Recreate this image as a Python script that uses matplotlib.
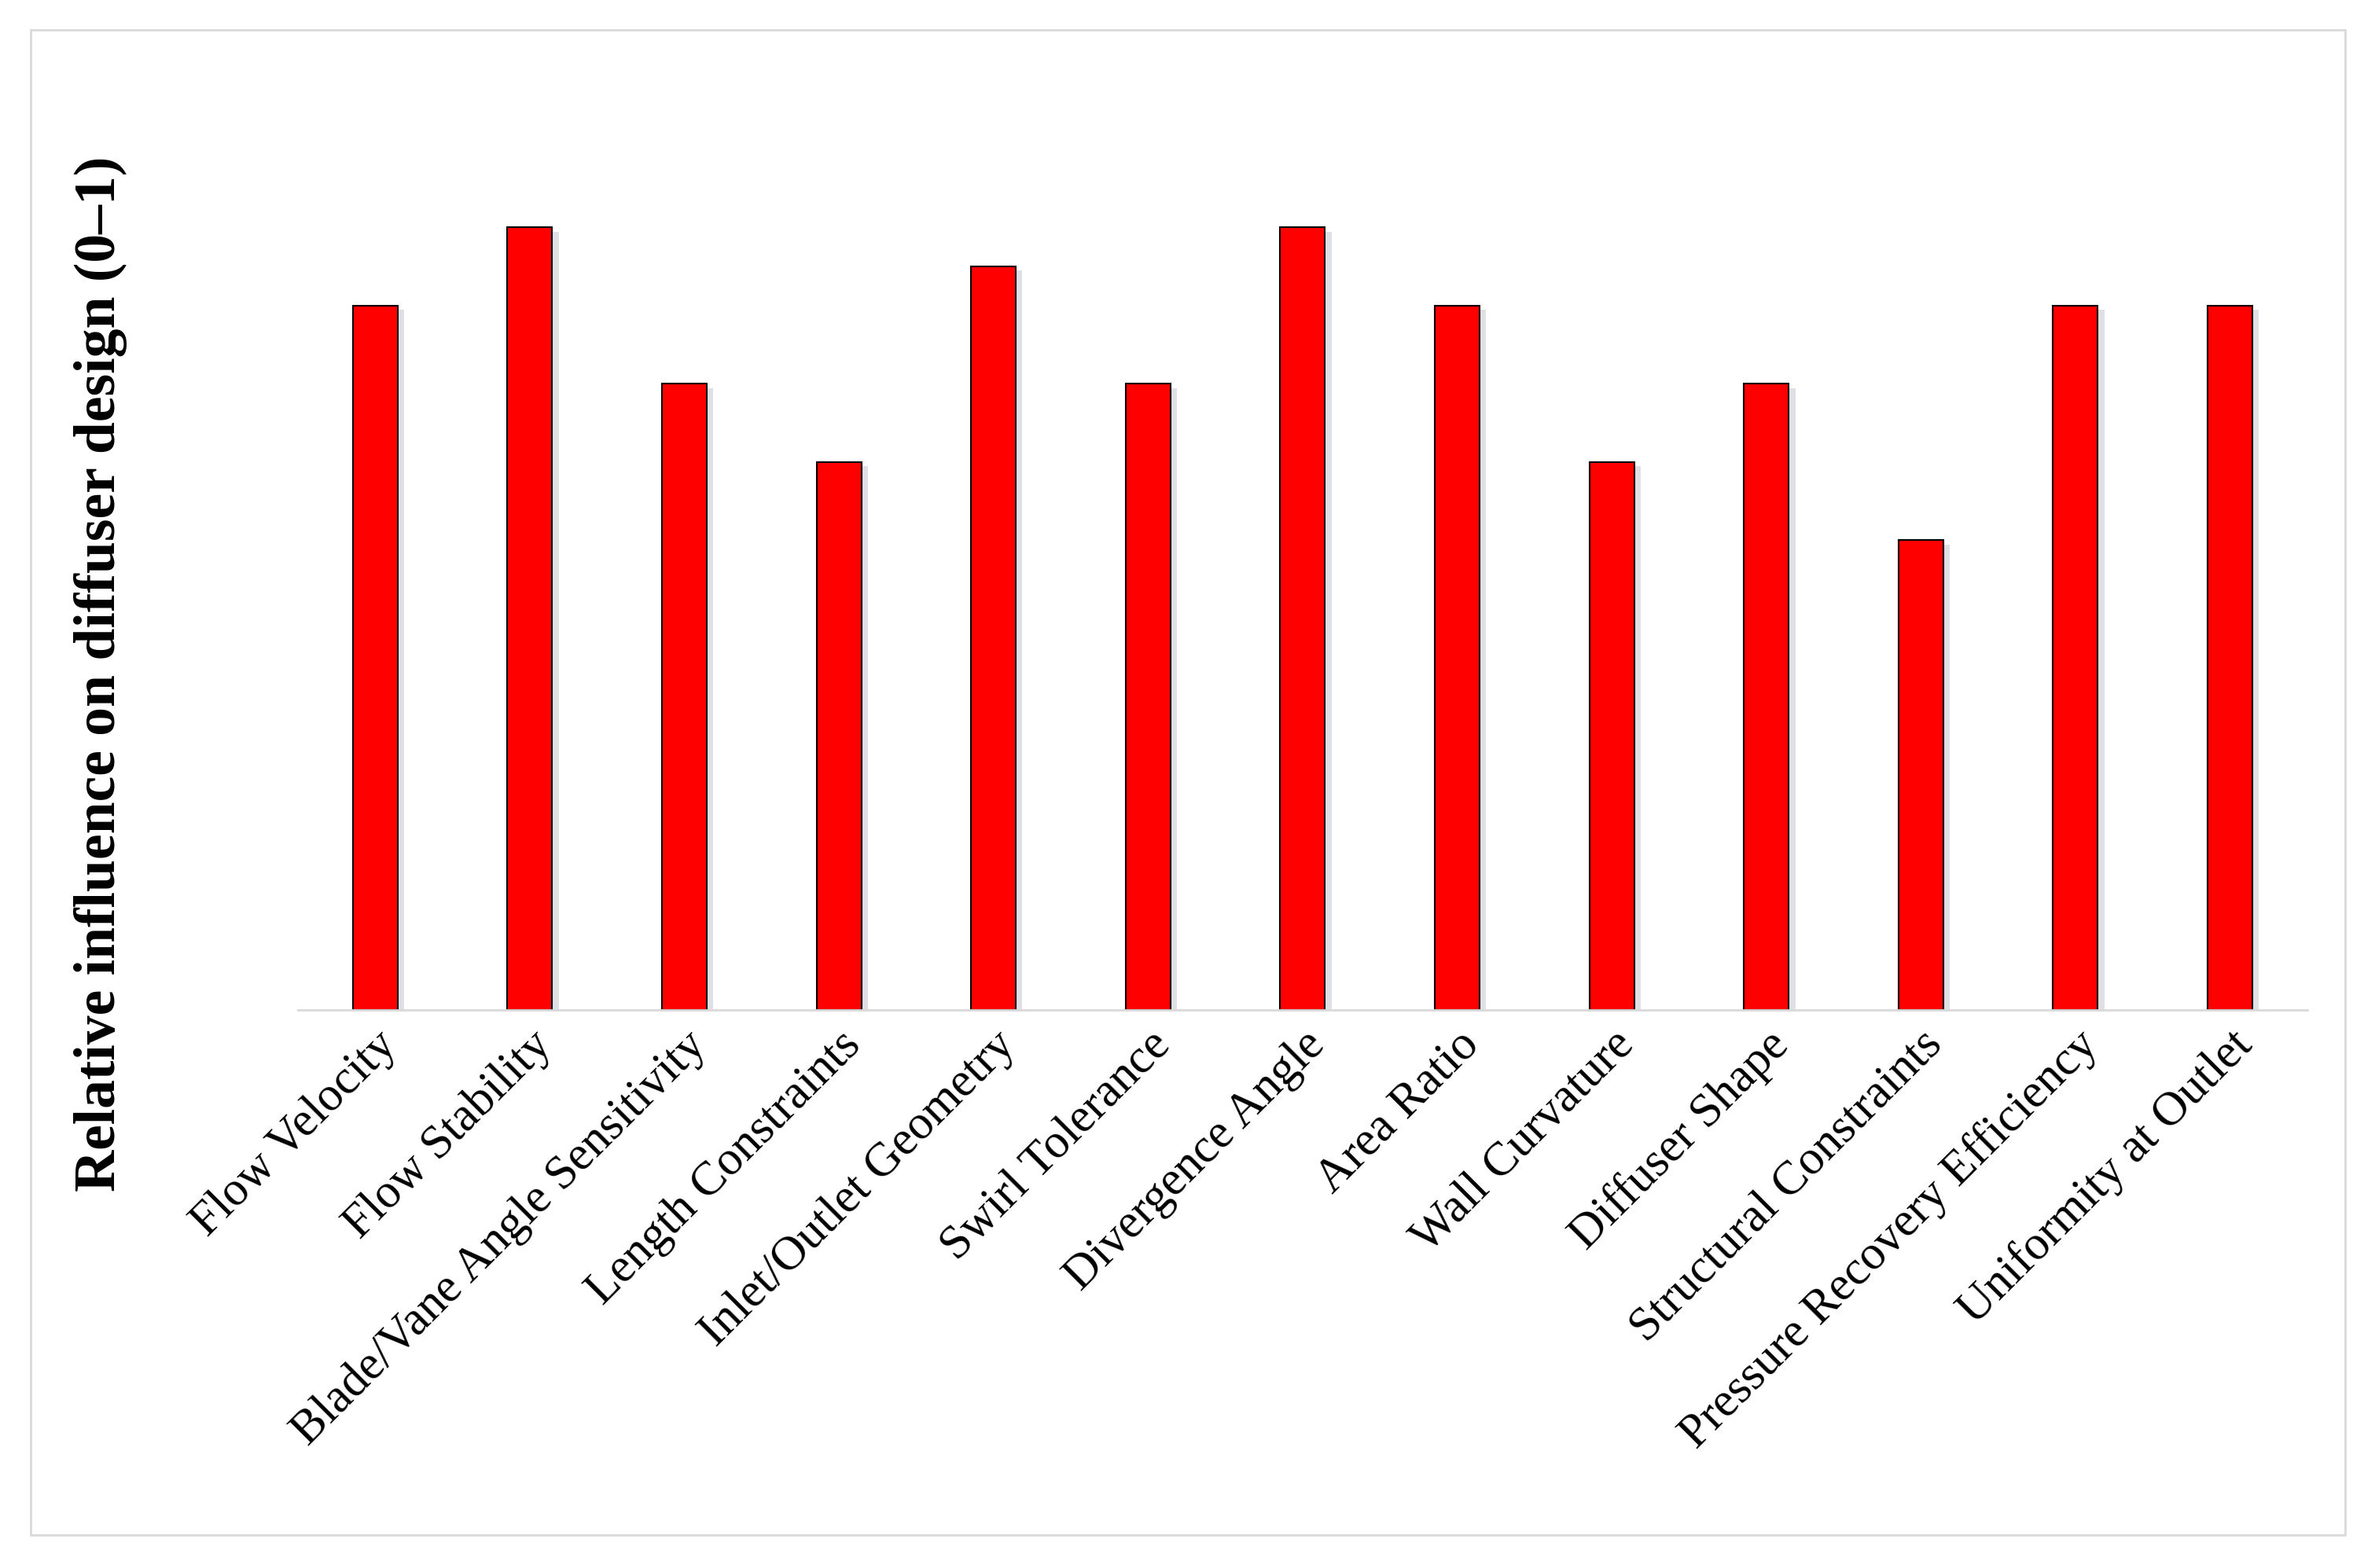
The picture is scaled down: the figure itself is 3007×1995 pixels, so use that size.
import matplotlib.pyplot as plt
import matplotlib.patheffects as pe
from matplotlib.patches import Rectangle

factors = ['Flow Velocity', 'Flow Stability', 'Blade/Vane Angle Sensitivity',
           'Length Constraints', 'Inlet/Outlet Geometry', 'Swirl Tolerance',
           'Divergence Angle', 'Area Ratio', 'Wall Curvature', 'Diffuser Shape',
           'Structural Constraints', 'Pressure Recovery Efficiency',
           'Uniformity at Outlet']
influence = [0.9, 1.0, 0.8, 0.7, 0.95, 0.8, 1.0, 0.9, 0.7, 0.8, 0.6, 0.9, 0.9]

plt.rcParams['font.family'] = ['Liberation Serif', 'DejaVu Serif']

fig = plt.figure(figsize=(30.07, 19.95), dpi=100)
fig.patches.append(Rectangle((0.013, 0.021), 0.979, 0.96, transform=fig.transFigure,
                             fill=False, edgecolor='#d9d9d9', linewidth=2))
ax = fig.add_axes([0.126, 0.356, 0.85, 0.564])

shadow = [pe.SimplePatchShadow(offset=(6, -4), shadow_rgbFace='#c8ccd4', alpha=0.6), pe.Normal()]
bars = ax.bar(range(len(factors)), influence, width=0.29, color='#ff0000',
              edgecolor='black', linewidth=1.5)
for b in bars:
    b.set_path_effects(shadow)

ax.set_xlim(-0.5, len(factors) - 0.5)
ax.set_ylim(0, 1.13)
ax.set_xticks(range(len(factors)))
ax.set_xticklabels(factors, rotation=45, ha='right', rotation_mode='anchor', fontsize=44)
ax.tick_params(axis='x', length=0, pad=12)
ax.set_yticks([])
for s in ['top', 'right', 'left']:
    ax.spines[s].set_visible(False)
ax.spines['bottom'].set_color('#d9d9d9')
ax.spines['bottom'].set_linewidth(2)
ax.set_ylabel('Relative influence on diffuser design (0–1)', fontsize=53,
              fontweight='bold')
ax.yaxis.set_label_coords(-0.085, 0.38)

fig.savefig('out.png', dpi=100)
